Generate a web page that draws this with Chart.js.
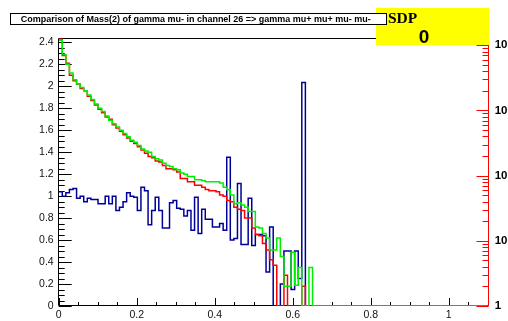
<!DOCTYPE html>
<html>
<head>
<meta charset="utf-8">
<script src="https://cdn.jsdelivr.net/npm/chart.js@4.4.1/dist/chart.umd.min.js"></script>
<style>
  html, body { margin: 0; padding: 0; background: #fff; overflow: hidden; }
  canvas { display: block; }
</style>
</head>
<body>
<canvas id="c" width="508" height="321"></canvas>
<script>
// Histogram binning: 120 bins over [0, 1.1]
const X_MAX = 1.1;
const N_BINS = 120;
const BIN_WIDTH = X_MAX / N_BINS;

// Bin contents from bin 0 upward; every later bin is empty
const blueCounts = [
  1.04, 1.00, 1.03, 1.06, 1.07, 0.98, 1.00, 0.95, 0.98, 0.97,
  0.97, 0.93, 0.93, 1.00, 0.93, 1.00, 0.87, 0.90, 0.95, 1.03,
  1.00, 0.99, 0.87, 1.08, 1.05, 0.74, 0.87, 0.99, 0.87, 0.71,
  0.71, 0.94, 0.96, 0.89, 0.88, 0.82, 0.87, 0.69, 0.99, 0.66,
  0.88, 0.79, 0.79, 0.72, 0.72, 0.75, 0.69, 1.355, 0.60, 0.615,
  1.115, 0.56, 0.56, 0.98, 0.55, 0.65, 0.65, 0.64, 0.31, 0.72,
  0, 0, 0.20, 0.50, 0.50, 0.15, 0.50, 0.25, 2.035, 0,
  0, 0
];
const redCounts = [
  2.43, 2.28, 2.21, 2.10, 2.05, 2.02, 1.98, 1.96, 1.91, 1.87,
  1.83, 1.79, 1.76, 1.72, 1.70, 1.65, 1.62, 1.59, 1.56, 1.53,
  1.50, 1.48, 1.45, 1.42, 1.39, 1.36, 1.35, 1.32, 1.31, 1.28,
  1.25, 1.25, 1.24, 1.22, 1.16, 1.16, 1.13, 1.13, 1.10, 1.10,
  1.08, 1.06, 1.05, 1.05, 1.04, 1.01, 1.00, 0.96, 0.95, 0.90,
  0.88, 0.87, 0.80, 0.80, 0.71, 0.65, 0.64, 0.57, 0.51, 0.42,
  0.37, 0, 0, 0.28, 0, 0, 0, 0, 0.18, 0,
  0, 0
];
const greenCounts = [
  2.42, 2.29, 2.20, 2.12, 2.06, 2.02, 1.99, 1.96, 1.92, 1.88,
  1.84, 1.80, 1.77, 1.73, 1.69, 1.66, 1.63, 1.60, 1.57, 1.54,
  1.51, 1.49, 1.46, 1.43, 1.41, 1.40, 1.36, 1.34, 1.33, 1.30,
  1.28, 1.27, 1.25, 1.24, 1.21, 1.20, 1.18, 1.18, 1.15, 1.15,
  1.14, 1.13, 1.13, 1.13, 1.13, 1.12, 1.08, 1.06, 1.01, 0.93,
  0.94, 0.92, 0.90, 0.86, 0.86, 0.72, 0.71, 0.66, 0.62, 0.51,
  0.51, 0.62, 0.45, 0.18, 0.18, 0.49, 0.19, 0.35, 0, 0,
  0.35, 0
];

// Axis ticks and labels
const xTicks = [0, 0.2, 0.4, 0.6, 0.8, 1];
const xTickLabels = ['0', '0.2', '0.4', '0.6', '0.8', '1'];
const yTicks = [0, 0.2, 0.4, 0.6, 0.8, 1, 1.2, 1.4, 1.6, 1.8, 2, 2.2, 2.4];
const yTickLabels = ['0', '0.2', '0.4', '0.6', '0.8', '1', '1.2', '1.4', '1.6', '1.8', '2', '2.2', '2.4'];
const logTicks = [1, 10, 100, 1000, 10000];
const logTickLabels = ['1', '10', '10', '10', '10'];
const Y_MAX = 2.437;
const LOG_MAX = 12800;

const titleText = 'Comparison of Mass(2) of gamma mu- in channel 26 => gamma mu+ mu+ mu- mu-';
const statLabel = 'SDP';
const statValue = '0';

const SANS = '"Liberation Sans", Arial, Helvetica, sans-serif';
const SERIF = '"Liberation Serif", "Times New Roman", serif';

// Histogram outline: one point per bin left edge, closed down to zero and run out to the axis end
function outline(counts) {
  const pts = counts.map((v, i) => ({ x: i * BIN_WIDTH, y: v }));
  pts.push({ x: counts.length * BIN_WIDTH, y: 0 });
  pts.push({ x: X_MAX, y: 0 });
  return pts;
}

function histDataset(counts, color) {
  return {
    data: outline(counts),
    borderColor: color,
    borderWidth: 1.5,
    stepped: true,
    pointRadius: 0,
    fill: false,
    tension: 0,
    yAxisID: 'y',
    xAxisID: 'x'
  };
}

// Inward-pointing ticks and frame
const frameAndTicks = {
  id: 'frameAndTicks',
  beforeDatasetsDraw(chart) {
    const { ctx, chartArea: a, scales } = chart;
    const sx = scales.x, sy = scales.y, sr = scales.yR;
    ctx.save();
    ctx.lineWidth = 1;

    ctx.strokeStyle = '#000';
    ctx.beginPath();
    const nx = Math.round(X_MAX / 0.05);
    for (let k = 0; k <= nx; k++) {
      const px = Math.round(sx.getPixelForValue(k * 0.05)) + 0.5;
      const len = (k % 4 === 0) ? 8 : 4;
      ctx.moveTo(px, a.bottom);
      ctx.lineTo(px, a.bottom - len);
    }
    for (let k = 0; k * 0.05 <= Y_MAX + 1e-9; k++) {
      const py = Math.round(sy.getPixelForValue(k * 0.05)) + 0.5;
      const len = (k % 4 === 0) ? 13 : 6;
      ctx.moveTo(a.left, py);
      ctx.lineTo(a.left + len, py);
    }
    ctx.stroke();

    // frame: left, bottom, top
    const L = Math.floor(a.left) + 0.5;
    const B = Math.round(a.bottom) - 0.5;
    const T = Math.floor(a.top) + 0.5;
    const R = Math.round(a.right) + 0.5;
    ctx.beginPath();
    ctx.moveTo(L, T); ctx.lineTo(L, B);
    ctx.moveTo(L, B); ctx.lineTo(R, B);
    ctx.moveTo(L, T); ctx.lineTo(R, T);
    ctx.stroke();

    // right logarithmic axis in red
    ctx.strokeStyle = '#ff0000';
    ctx.beginPath();
    ctx.moveTo(R, T); ctx.lineTo(R, B + 0.5);
    for (let d = 0; d <= 4; d++) {
      for (let m = 1; m <= 9; m++) {
        const v = m * Math.pow(10, d);
        if (v > LOG_MAX) break;
        const py = Math.round(sr.getPixelForValue(v)) + 0.5;
        const len = (m === 1) ? 12 : 6;
        ctx.moveTo(R, py);
        ctx.lineTo(R - len, py);
      }
    }
    ctx.stroke();
    ctx.restore();
  }
};

// Title box and the SDP box
const headerBoxes = {
  id: 'headerBoxes',
  afterDraw(chart) {
    const { ctx } = chart;
    ctx.save();
    ctx.fillStyle = '#ffff00';
    ctx.fillRect(376, 8, 113.3, 37);

    ctx.fillStyle = '#000';
    ctx.textBaseline = 'alphabetic';
    ctx.textAlign = 'left';
    ctx.font = 'bold 15.5px ' + SERIF;
    ctx.fillText(statLabel, 388, 23.3);
    ctx.textAlign = 'center';
    ctx.font = 'bold 19px ' + SANS;
    ctx.fillText(statValue, 424, 42.7);

    ctx.fillStyle = '#fff';
    ctx.fillRect(10.5, 13.5, 376, 11);
    ctx.strokeStyle = '#000';
    ctx.lineWidth = 1;
    ctx.strokeRect(10.5, 13.5, 376, 11);

    ctx.fillStyle = '#000';
    ctx.textAlign = 'left';
    ctx.textBaseline = 'middle';
    let size = 9;
    ctx.font = 'bold ' + size + 'px ' + SANS;
    size = size * 350 / ctx.measureText(titleText).width;
    ctx.font = 'bold ' + size.toFixed(2) + 'px ' + SANS;
    ctx.fillText(titleText, 20.7, 19.2);
    ctx.restore();
  }
};

new Chart(document.getElementById('c'), {
  type: 'line',
  data: {
    datasets: [
      histDataset(greenCounts, '#00ee00'),
      histDataset(redCounts, '#ff0000'),
      histDataset(blueCounts, '#000099')
    ]
  },
  options: {
    responsive: false,
    devicePixelRatio: 1,
    animation: false,
    parsing: true,
    layout: { padding: { top: 38.3, left: 0, right: 0, bottom: 0 } },
    plugins: { legend: { display: false }, tooltip: { enabled: false }, title: { display: false } },
    scales: {
      x: {
        type: 'linear', position: 'bottom', min: 0, max: X_MAX,
        grid: { display: false, drawTicks: false }, border: { display: false },
        afterBuildTicks: s => { s.ticks = xTicks.map(v => ({ value: v })); },
        afterFit: s => { s.height = 15; },
        ticks: {
          autoSkip: false, maxRotation: 0, minRotation: 0, padding: 3,
          color: '#111', font: { family: SANS, size: 10.5 },
          callback: (v, i) => xTickLabels[i]
        }
      },
      y: {
        type: 'linear', position: 'left', min: 0, max: Y_MAX,
        grid: { display: false, drawTicks: false }, border: { display: false },
        afterBuildTicks: s => { s.ticks = yTicks.map(v => ({ value: v })); },
        afterFit: s => { s.width = 58.7; },
        ticks: {
          autoSkip: false, padding: 5,
          color: '#111', font: { family: SANS, size: 10.5 },
          callback: (v, i) => yTickLabels[i]
        }
      },
      yR: {
        type: 'logarithmic', position: 'right', min: 1, max: LOG_MAX,
        grid: { display: false, drawTicks: false }, border: { display: false },
        afterBuildTicks: s => { s.ticks = logTicks.map(v => ({ value: v })); },
        afterFit: s => { s.width = 20.3; },
        ticks: {
          autoSkip: false, padding: 7,
          color: '#000', font: { family: SANS, size: 11.5, weight: 'bold' },
          callback: (v, i) => logTickLabels[i]
        }
      }
    }
  },
  plugins: [frameAndTicks, headerBoxes]
});
</script>
</body>
</html>
